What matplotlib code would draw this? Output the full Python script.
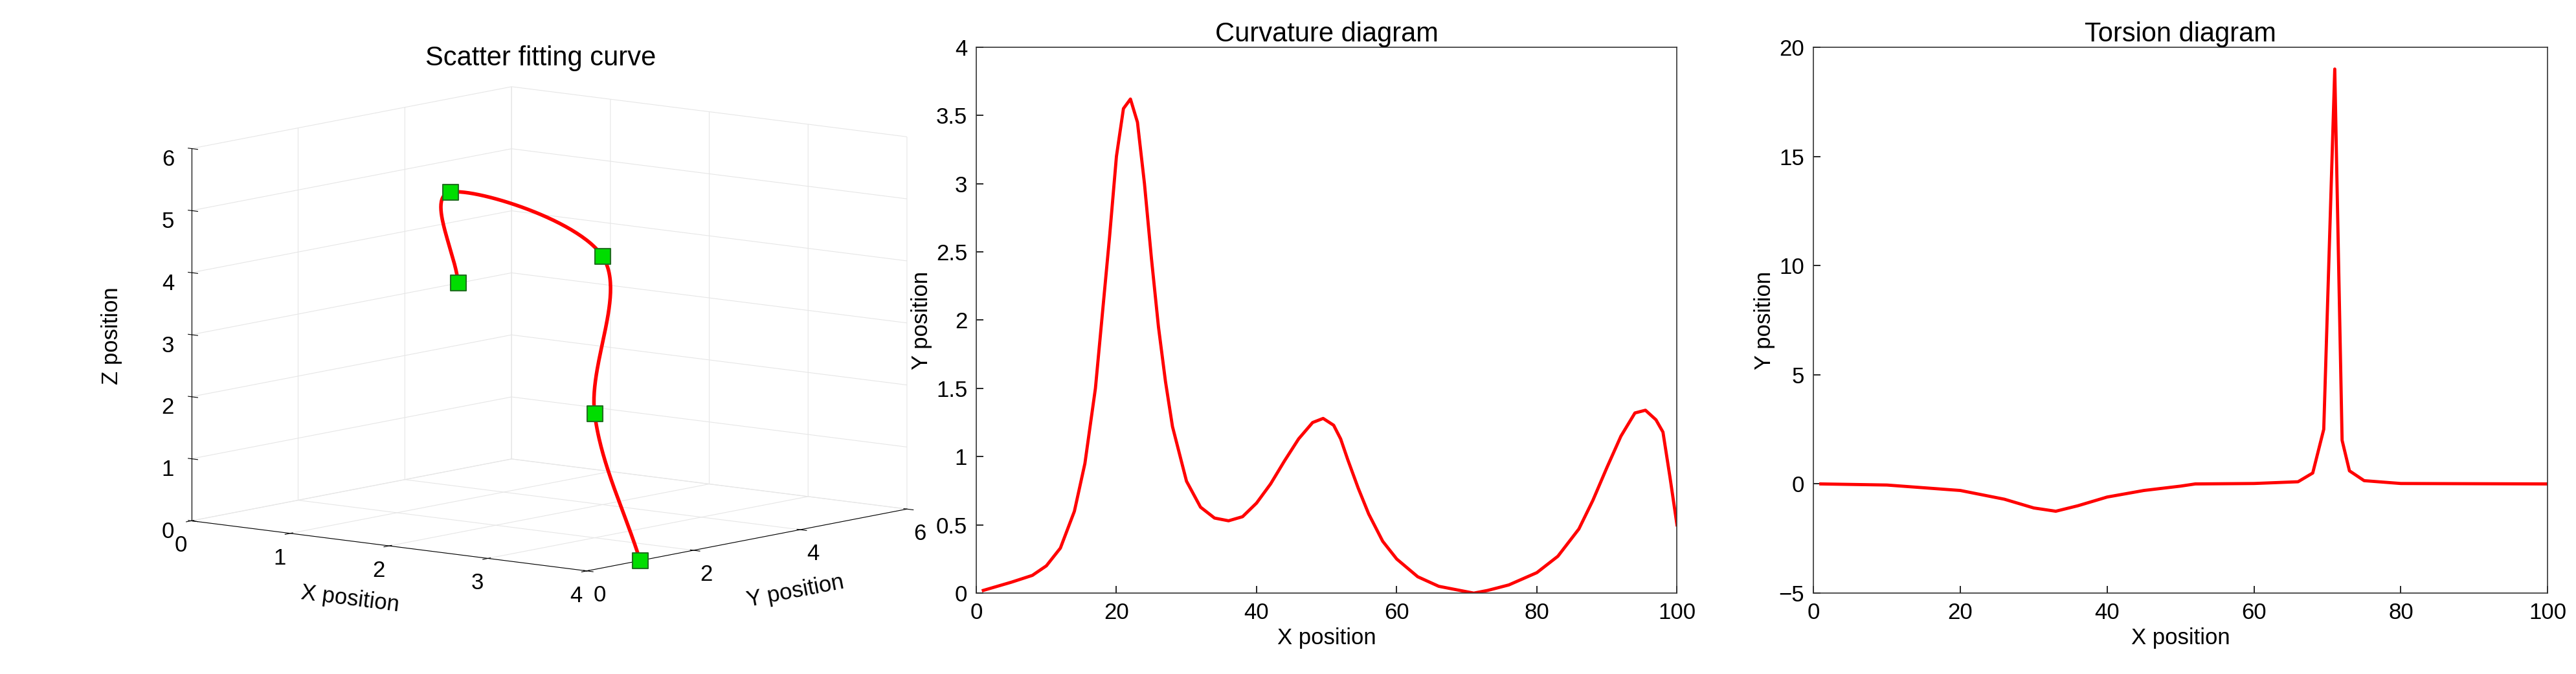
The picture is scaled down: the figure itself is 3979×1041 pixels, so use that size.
import matplotlib
matplotlib.use("Agg")
import matplotlib.pyplot as plt
from matplotlib.ticker import FormatStrFormatter
import numpy as np

# control points of the 3D fitted curve
px = [4, 3, 2, 1, 0]
py = [1, 2, 4, 3, 5]
pz = [0, 2, 4, 5, 3]

# curvature diagram
kx = [1, 3, 5, 8, 10, 12, 14, 15.5, 17, 18, 19, 20, 21, 22, 23, 24, 25, 26, 27, 28, 30, 32,
      34, 36, 38, 40, 42, 44, 46, 48, 49.5, 51, 52, 53, 54.5, 56, 58, 60, 63, 66, 68, 71, 73,
      76, 80, 83, 86, 88, 90, 92, 94, 95.5, 97, 98, 99, 100]
ky = [0.02, 0.05, 0.08, 0.13, 0.2, 0.33, 0.6, 0.95, 1.5, 2.05, 2.6, 3.2, 3.55, 3.62, 3.45,
      3.0, 2.45, 1.95, 1.55, 1.22, 0.82, 0.63, 0.55, 0.53, 0.56, 0.66, 0.8, 0.97, 1.13, 1.25,
      1.28, 1.23, 1.13, 0.98, 0.77, 0.58, 0.38, 0.25, 0.12, 0.05, 0.03, 0.0, 0.02, 0.06, 0.15,
      0.27, 0.47, 0.68, 0.92, 1.15, 1.32, 1.34, 1.27, 1.18, 0.85, 0.5]

# torsion diagram
tx = [1, 10, 20, 26, 30, 33, 36, 40, 45, 50, 52, 60, 66, 68, 69.5, 70, 71, 72, 73, 75, 80, 100]
ty = [0, -0.05, -0.3, -0.7, -1.1, -1.25, -1.0, -0.6, -0.3, -0.1, 0, 0.02, 0.1, 0.5, 2.5, 8,
      19, 2, 0.6, 0.15, 0.02, 0]

plt.rcParams["font.family"] = ["Liberation Sans", "DejaVu Sans"]
plt.rcParams["font.size"] = 25


def catmull(pts, n=60):
    pts = np.asarray(pts, dtype=float)
    ext = np.vstack([2 * pts[0] - pts[1], pts, 2 * pts[-1] - pts[-2]])
    out = []
    t = np.linspace(0, 1, n)[:, None]
    for i in range(1, len(ext) - 2):
        p0, p1, p2, p3 = ext[i - 1], ext[i], ext[i + 1], ext[i + 2]
        out.append(0.5 * ((2 * p1) + (-p0 + p2) * t + (2 * p0 - 5 * p1 + 4 * p2 - p3) * t ** 2
                          + (-p0 + 3 * p1 - 3 * p2 + p3) * t ** 3))
    return np.vstack(out)


fig = plt.figure(figsize=(39.79, 10.41), dpi=100)

ax1 = fig.add_axes([0.045, 0.05, 0.33, 0.9], projection="3d", proj_type="ortho")
curve = catmull(np.column_stack([px, py, pz]))
ax1.plot(curve[:, 0], curve[:, 1], curve[:, 2], color="red", lw=4)
ax1.scatter(px, py, pz, marker="s", s=300, c="#00dd00", edgecolors="#207020", linewidths=1.5,
            depthshade=False)
ax1.set_xlim(0, 4)
ax1.set_ylim(0, 6)
ax1.set_zlim(0, 6)
ax1.set_xticks([0, 1, 2, 3, 4])
ax1.set_yticks([0, 2, 4, 6])
ax1.set_zticks([0, 1, 2, 3, 4, 5, 6])
ax1.set_xlabel("X position", labelpad=22)
ax1.set_ylabel("Y position", labelpad=22)
ax1.set_zlabel("Z position", labelpad=18)
ax1.set_title("Scatter fitting curve", y=1.02)
ax1.view_init(elev=9, azim=-51)
ax1.set_box_aspect((1.35, 1.35, 1.0), zoom=1.3)
ax1.zaxis._axinfo["juggled"] = (1, 2, 0)
for a in (ax1.xaxis, ax1.yaxis, ax1.zaxis):
    a.set_pane_color((1, 1, 1, 1))
    a._axinfo["grid"]["color"] = (0.9, 0.9, 0.9, 1)
    a._axinfo["axisline"]["color"] = (0.4, 0.4, 0.4, 1)

ax2 = fig.add_axes([0.379, 0.12, 0.272, 0.81])
ax2.plot(kx, ky, color="red", lw=3.5)
ax2.set_xlim(0, 100)
ax2.set_ylim(0, 4)
ax2.set_yticks([0, 0.5, 1, 1.5, 2, 2.5, 3, 3.5, 4])
ax2.yaxis.set_major_formatter(FormatStrFormatter("%g"))
ax2.set_title("Curvature diagram")
ax2.set_xlabel("X position")
ax2.set_ylabel("Y position")

ax3 = fig.add_axes([0.704, 0.12, 0.285, 0.81])
ax3.plot(tx, ty, color="red", lw=3.5)
ax3.set_xlim(0, 100)
ax3.set_ylim(-5, 20)
ax3.set_title("Torsion diagram")
ax3.set_xlabel("X position")
ax3.set_ylabel("Y position")

for ax in (ax2, ax3):
    ax.tick_params(direction="in", length=8, width=1.2, pad=10)
    for s in ax.spines.values():
        s.set_linewidth(1.2)
        s.set_color("#333333")

fig.savefig("out.png", dpi=100)
